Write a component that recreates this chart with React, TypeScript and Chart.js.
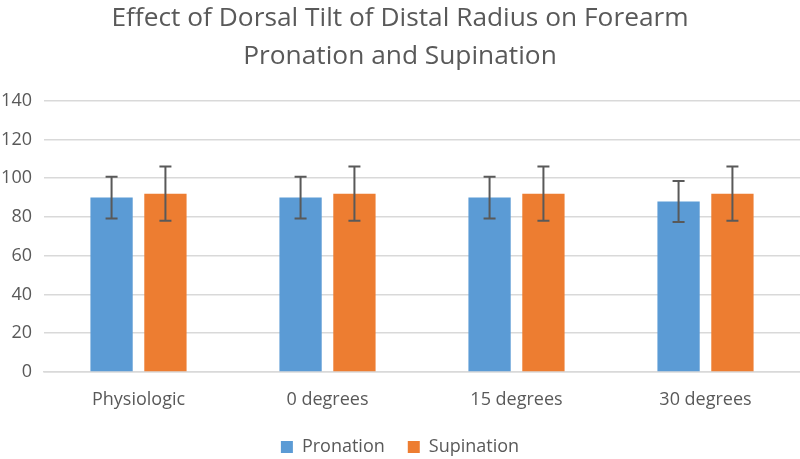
import React, { useEffect, useRef } from "react";
import { Chart, registerables } from "chart.js";

Chart.register(...registerables);

const categories = ["Physiologic", "0 degrees", "15 degrees", "30 degrees"];
const pronation = [90, 90, 90, 88];
const pronationErr = [10.8, 10.8, 10.8, 10.6];
const supination = [92, 92, 92, 92];
const supinationErr = [14, 14, 14, 14];
const yTicks = [0, 20, 40, 60, 80, 100, 120, 140];
const titleLines = ["Effect of Dorsal Tilt of Distal Radius on Forearm", "Pronation and Supination"];

const FONT = "'Open Sans', 'Noto Sans', sans-serif";
const GRAY = "#595959";

const errorBarPlugin = {
  id: "errorBars",
  afterDatasetsDraw(chart: any) {
    const ctx = chart.ctx;
    const yScale = chart.scales.y;
    const errs = [pronationErr, supinationErr];
    chart.data.datasets.forEach((ds: any, di: number) => {
      const meta = chart.getDatasetMeta(di);
      meta.data.forEach((bar: any, i: number) => {
        const v = ds.data[i];
        const e = errs[di][i];
        const x = bar.x;
        const yTop = yScale.getPixelForValue(v + e);
        const yBot = yScale.getPixelForValue(v - e);
        ctx.save();
        ctx.strokeStyle = GRAY;
        ctx.lineWidth = 2;
        ctx.beginPath();
        ctx.moveTo(x, yTop);
        ctx.lineTo(x, yBot);
        ctx.moveTo(x - 6, yTop);
        ctx.lineTo(x + 6, yTop);
        ctx.moveTo(x - 6, yBot);
        ctx.lineTo(x + 6, yBot);
        ctx.stroke();
        ctx.restore();
      });
    });
  },
};

export default function App() {
  const ref = useRef<HTMLCanvasElement>(null);
  useEffect(() => {
    if (!ref.current) return;
    const chart = new Chart(ref.current, {
      type: "bar",
      data: {
        labels: categories,
        datasets: [
          {
            label: "Pronation",
            data: pronation,
            backgroundColor: "#5b9bd5",
            categoryPercentage: 0.57,
            barPercentage: 0.785,
          },
          {
            label: "Supination",
            data: supination,
            backgroundColor: "#ed7d31",
            categoryPercentage: 0.57,
            barPercentage: 0.785,
          },
        ],
      },
      options: {
        animation: false,
        responsive: false,
        layout: { padding: { left: 0, right: 0, top: 0, bottom: -7 } },
        plugins: {
          title: {
            display: true,
            text: titleLines,
            color: GRAY,
            font: { family: FONT, size: 26.3, weight: "normal", lineHeight: 1.42 },
            padding: { top: 0, bottom: 26 },
          },
          legend: {
            position: "bottom",
            labels: {
              color: GRAY,
              font: { family: FONT, size: 18 },
              boxWidth: 12,
              boxHeight: 12,
              padding: 23,
            },
          },
          tooltip: { enabled: false },
        },
        scales: {
          x: {
            afterFit: (scale: any) => {
              scale.height = 43;
            },
            grid: { display: false, drawTicks: false },
            border: { color: "#d9d9d9", width: 1.5 },
            ticks: { color: GRAY, font: { family: FONT, size: 18 }, padding: 17 },
          },
          y: {
            min: 0,
            max: 140,
            afterBuildTicks: (scale: any) => {
              scale.ticks = yTicks.map((v) => ({ value: v }));
            },
            afterFit: (scale: any) => {
              scale.width = 44;
            },
            grid: { color: "#d9d9d9", lineWidth: 1.5, drawTicks: false },
            border: { display: false },
            ticks: { color: GRAY, font: { family: FONT, size: 18 }, padding: 12 },
          },
        },
      },
      plugins: [errorBarPlugin],
    });
    return () => chart.destroy();
  }, []);
  return (
    <div style={{ position: "fixed", left: 0, top: 0, width: 800, height: 459, background: "#fff" }}>
      <canvas ref={ref} width={800} height={459} style={{ width: 800, height: 459 }} />
    </div>
  );
}
